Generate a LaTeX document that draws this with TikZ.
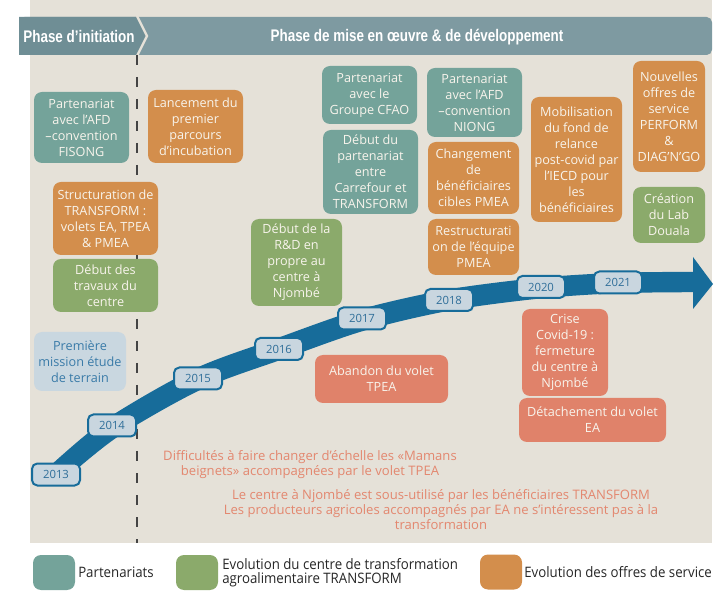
\documentclass[tikz,border=0pt]{standalone}
\usepackage{fontspec}
\setmainfont{Open Sans}
\newfontfamily\headfont[FakeStretch=0.8]{Liberation Sans}
\newfontfamily\legfont[FakeStretch=0.92]{Open Sans}
\definecolor{cbg}{HTML}{E5E1D8}
\definecolor{chead1}{HTML}{6F8E95}
\definecolor{chead2}{HTML}{7E9AA1}
\definecolor{cteal}{HTML}{74A39A}
\definecolor{cgreen}{HTML}{8BAA6B}
\definecolor{corange}{HTML}{D38E4C}
\definecolor{csalmon}{HTML}{E0826A}
\definecolor{clight}{HTML}{C9D7E0}
\definecolor{clighttext}{HTML}{3A7BA8}
\definecolor{cblue}{HTML}{176C9A}
\definecolor{cyearfill}{HTML}{C9D6DF}
\definecolor{cyeartext}{HTML}{2F6E99}
\definecolor{cnote}{HTML}{E3876F}
\definecolor{cboxtext}{HTML}{F8F4EC}
\definecolor{cdash}{HTML}{444444}
\tikzset{
  bx/.style 2 args={minimum width=#1*0.75pt, minimum height=#2*0.75pt},
  box/.style={rounded corners=6pt, align=center, text=cboxtext, inner sep=1pt,
    font=\fontsize{9.5}{12}\selectfont},
  partbox/.style={box, fill=cteal},
  centbox/.style={box, fill=cgreen},
  offbox/.style={box, fill=corange},
  critbox/.style={box, fill=csalmon},
  infobox/.style={box, fill=clight, text=clighttext},
  yr/.style={draw=cblue, line width=1.5pt, fill=cyearfill, rounded corners=4pt,
    minimum width=36pt, minimum height=16.5pt, inner sep=0pt, text=cyeartext,
    font=\fontsize{8.5}{10}\selectfont},
  headtxt/.style={text=white, font=\headfont\bfseries\fontsize{12.6}{14}\selectfont, inner sep=0pt},
  note/.style={text=cnote, align=center, font=\fontsize{9.8}{11.25}\selectfont, inner sep=0pt},
  legsq/.style={rounded corners=6pt, minimum width=31.5pt, minimum height=26.25pt, inner sep=0pt},
  legtxt/.style={text=black!85, font=\legfont\fontsize{10.8}{10.5}\selectfont, inner sep=0pt}
}
\begin{document}
\begin{tikzpicture}[x=0.75pt,y=-0.75pt]
\useasboundingbox (0,0) rectangle (714,591);
% background
\fill[cbg] (30,0) rectangle (712,543);
% header band
\fill[chead2, rounded corners=4pt] (19,17) rectangle (712,55);
\fill[chead1] (19,17) -- (137,17) -- (147,36) -- (137,55) -- (19,55) -- cycle;
\draw[cbg, line width=1.8pt] (137,16) -- (147,36) -- (137,56);
\node[headtxt] (h1) at (79,37) {Phase d’initiation};
\node[headtxt] (h2) at (417,37) {Phase de mise en œuvre \& de développement};
% dashed separator
\coordinate (d1) at (137,55);
\coordinate (d2) at (137,543);
\draw[cdash, line width=0.9pt, dash pattern=on 7.5pt off 9pt] (d1) -- (d2);
% timeline arrow
\fill[cblue] plot[smooth] coordinates {(49.7,466.3) (106,419.4) (193.6,369.2) (275.3,338.8) (358.9,309.7) (447.2,289.6) (540,277.7) (617.6,272.8) (693,271.8)}
  -- (693,257) -- (713,284) -- (693,309)
  -- plot[smooth] coordinates {(693,292.2) (618.4,293.2) (542,298.3) (450.8,310.4) (365.1,330.4) (282.7,359.2) (202.4,388.9) (118,436.6) (62.3,481.7)} -- cycle;
% years
\node[yr] (y13) at (56,474.5) {2013};
\node[yr] (y14) at (112,425.5) {2014};
\node[yr] (y15) at (198,378.5) {2015};
\node[yr] (y16) at (279,349) {2016};
\node[yr] (y17) at (362,318.5) {2017};
\node[yr] (y18) at (449,300) {2018};
\node[yr] (y20) at (541,287) {2020};
\node[yr] (y21) at (618,282.5) {2021};
% boxes
\node[partbox, bx={95}{71}] (b1) at (81.5,127.5) {Partenariat\\avec l’AFD\\–convention\\FISONG};
\node[offbox, bx={95}{73}] (b2) at (195.5,126.5) {Lancement du\\premier\\parcours\\d’incubation};
\node[offbox, bx={105}{73}] (b3) at (105.5,218.5) {Structuration de\\TRANSFORM :\\volets EA, TPEA\\\& PMEA};
\node[centbox, bx={105}{53}] (b4) at (105.5,285.5) {Début des\\travaux du\\centre};
\node[infobox, bx={92}{59}] (b5) at (80,361.5) {Première\\mission étude\\de terrain};
\node[partbox, bx={95}{58}] (b6) at (369.5,95) {Partenariat\\avec le\\Groupe CFAO};
\node[partbox, bx={95}{84}] (b7) at (370.5,172) {Début du\\partenariat\\entre\\Carrefour et\\TRANSFORM};
\node[centbox, bx={91}{87}] (b8) at (296.5,262.5) {Début de la\\R\&D en\\propre au\\centre à\\Njombé};
\node[partbox, bx={95}{69}] (b9) at (474.5,102.5) {Partenariat\\avec l’AFD\\–convention\\NIONG};
\node[offbox, bx={91}{72}] (b10) at (473.5,178) {Changement\\de\\bénéficiaires\\cibles PMEA};
\node[offbox, bx={91}{56}] (b11) at (473.5,247) {Restructurati\\on de l’équipe\\PMEA};
\node[offbox, bx={91}{125}] (b12) at (576.5,159.5) {Mobilisation\\du fond de\\relance\\post-covid par\\l’IECD pour\\les\\bénéficiaires};
\node[offbox, bx={72}{111}] (b13) at (669,116.5) {Nouvelles\\offres de\\service\\PERFORM\\\&\\DIAG’N’GO};
\node[centbox, bx={72}{56}] (b14) at (669,215) {Création\\du Lab\\Douala};
\node[critbox, bx={133}{48}] (b15) at (381.5,379) {Abandon du volet\\TPEA};
\node[critbox, bx={86}{87}] (b16) at (565,352.5) {Crise\\Covid-19 :\\fermeture\\du centre à\\Njombé};
\node[critbox, bx={147}{44}] (b17) at (592.5,420) {Détachement du volet\\EA};
% notes
\node[note] (n1) at (310,464.5) {Difficultés à faire changer d’échelle les «Mamans\\beignets» accompagnées par le volet TPEA};
\node[note] (n2) at (441,510) {Le centre à Njombé est sous-utilisé par les bénéficiaires TRANSFORM\\Les producteurs agricoles accompagnés par EA ne s’intéressent pas à la\\transformation};
% legend
\node[legsq, fill=cteal] (l1) at (54,572.5) {};
\node[legtxt, anchor=west] (t1) at (78,572.5) {Partenariats};
\node[legsq, fill=cgreen] (l2) at (197,572.5) {};
\node[legtxt, anchor=west, align=left] (t2) at (222,573) {Evolution du centre de transformation\\agroalimentaire TRANSFORM};
\node[legsq, fill=corange] (l3) at (501,572) {};
\node[legtxt, anchor=west] (t3) at (524,572.5) {Evolution des offres de service};
\end{tikzpicture}
\end{document}
